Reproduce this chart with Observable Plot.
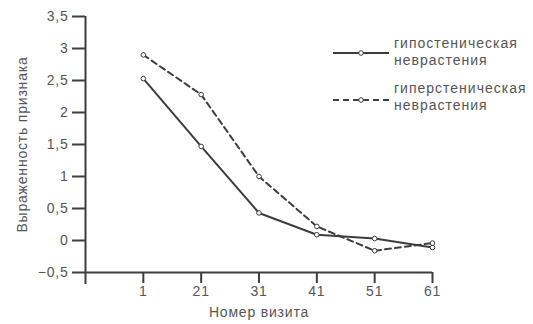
<!DOCTYPE html>
<html><head><meta charset="utf-8">
<script src="https://cdn.jsdelivr.net/npm/d3@7"></script>
<script src="https://cdn.jsdelivr.net/npm/@observablehq/plot@0.6"></script>
<style>
body{margin:0;background:#fff}
#wrap{position:relative;width:533px;height:324px}
.legend{position:absolute;left:333px;top:0;font:14px "Liberation Sans",Arial,sans-serif;letter-spacing:1px;color:#555;line-height:17px}
.legend svg{position:absolute;left:0}
.legend .txt{position:absolute;left:61px;white-space:nowrap}
</style></head><body><div id="wrap"></div>
<script>
const visits = ["1", "21", "31", "41", "51", "61"];
const hypo = [2.53, 1.47, 0.43, 0.09, 0.03, -0.11];
const hyper = [2.90, 2.28, 1.00, 0.22, -0.16, -0.04];
const yTicks = [-0.5, 0, 0.5, 1, 1.5, 2, 2.5, 3, 3.5];
const seriesNames = ["гипостеническая неврастения", "гиперстеническая неврастения"];

const ink = "#3d3d3d";
const textCol = "#555";
const dash = "6,4";

const rows = [];
visits.forEach((v, i) => {
  rows.push({s: seriesNames[0], i: i + 1, v: hypo[i]});
  rows.push({s: seriesNames[1], i: i + 1, v: hyper[i]});
});
const hypoRows = rows.filter(d => d.s === seriesNames[0]);
const hyperRows = rows.filter(d => d.s === seriesNames[1]);
const fmt = d => String(d).replace(".", ",").replace("-", "−");

const chart = Plot.plot({
  width: 533, height: 324,
  marginLeft: 85, marginRight: 101, marginTop: 16, marginBottom: 52,
  style: {fontFamily: '"Liberation Sans", Arial, sans-serif', fontSize: "14px", letterSpacing: "0.8px", color: textCol, background: "white"},
  x: {domain: [0, 6]},
  y: {domain: [-0.5, 3.5]},
  marks: [
    Plot.axisY(yTicks, {tickSize: 13, tickPadding: 4, tickFormat: fmt, stroke: ink, strokeWidth: 2,
      label: "Выраженность признака", labelAnchor: "center", labelArrow: "none", labelOffset: 68}),
    Plot.axisX(d3.range(1, visits.length + 1), {tickSize: 11, tickPadding: 3, tickFormat: i => visits[i - 1], stroke: ink, strokeWidth: 2,
      label: "Номер визита", labelAnchor: "center", labelArrow: "none", labelOffset: 44}),
    Plot.ruleX([0], {y1: 3.5, y2: -0.5, insetBottom: -12, stroke: ink, strokeWidth: 2}),
    Plot.ruleY([-0.5], {x1: 0, x2: 6, stroke: ink, strokeWidth: 2}),
    Plot.line(hyperRows, {x: "i", y: "v", stroke: ink, strokeWidth: 2, strokeDasharray: dash}),
    Plot.line(hypoRows, {x: "i", y: "v", stroke: ink, strokeWidth: 2}),
    Plot.dot(rows, {x: "i", y: "v", r: 2.3, stroke: ink, strokeWidth: 1, fill: "white"})
  ]
});
const wrap = document.getElementById("wrap");
wrap.appendChild(chart);

const leg = document.createElement("div");
leg.className = "legend";
const items = [
  {name: seriesNames[0], dash: null, lineY: 53, textTop: 35},
  {name: seriesNames[1], dash: dash, lineY: 100, textTop: 80}
];
items.forEach(it => {
  const svg = d3.create("svg").attr("width", 56).attr("height", 10).style("top", (it.lineY - 5) + "px");
  svg.append("line").attr("x1", 0).attr("x2", 56).attr("y1", 5).attr("y2", 5)
    .attr("stroke", ink).attr("stroke-width", 2).attr("stroke-dasharray", it.dash);
  svg.append("circle").attr("cx", 28).attr("cy", 5).attr("r", 2.3).attr("fill", "white").attr("stroke", ink);
  leg.appendChild(svg.node());
  const t = document.createElement("div");
  t.className = "txt";
  t.style.top = it.textTop + "px";
  t.innerHTML = it.name.split(" ").join("<br>");
  leg.appendChild(t);
});
wrap.appendChild(leg);
</script></body></html>
